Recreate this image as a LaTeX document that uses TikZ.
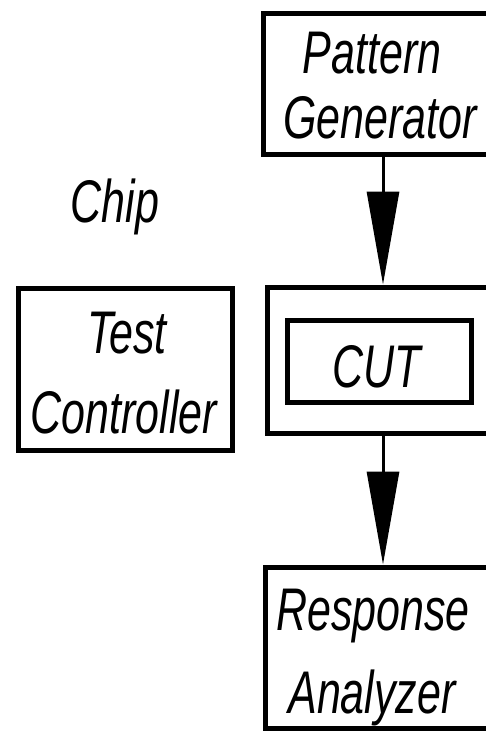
\documentclass[tikz,border=0pt]{standalone}
\usepackage{fontspec}
\setmainfont{Liberation Sans}
\usetikzlibrary{arrows.meta}
\newcommand\ystretch[1]{\scalebox{1}[1.4]{#1}}
\begin{document}
\begin{tikzpicture}[x=1pt,y=-1pt,
  box/.style={draw=black,line width=5pt,inner sep=0pt,fill=none},
  lbl/.style={anchor=base,inner sep=0pt,font=\fontsize{43pt}{50pt}\selectfont\itshape},
  arr/.style={draw=black,line width=3pt,-{Triangle[length=93pt,width=32pt]}}]
\useasboundingbox (0,0) rectangle (486,732);
\clip (0,0) rectangle (486,732);
% boxes
\node[box,minimum width=240pt,minimum height=141pt] (pg) at (383,83.5) {};
\node[box,minimum width=232pt,minimum height=146pt] (cutout) at (383,360) {};
\node[box,minimum width=184pt,minimum height=82pt] (cut) at (379,361) {};
\node[box,minimum width=214pt,minimum height=162pt] (tc) at (125,369) {};
\node[box,minimum width=236pt,minimum height=161pt] (ra) at (383,647.5) {};
% labels
\node[lbl] (t1) at (372,73) {\ystretch{Pattern}};
\node[lbl] (t2) at (380,138) {\ystretch{Generator}};
\node[lbl] (t3) at (115,222) {\ystretch{Chip}};
\node[lbl] (t4) at (127,353) {\ystretch{Test}};
\node[lbl] (t5) at (124,433) {\ystretch{Controller}};
\node[lbl] (t6) at (377,387) {\ystretch{CUT}};
\node[lbl] (t7) at (373,630) {\ystretch{Response}};
\node[lbl] (t8) at (372,713) {\ystretch{Analyzer}};
% connectors
\draw[arr] (pg.south) -- (cutout.north);
\draw[arr] (cutout.south) -- (ra.north);
\end{tikzpicture}
\end{document}
